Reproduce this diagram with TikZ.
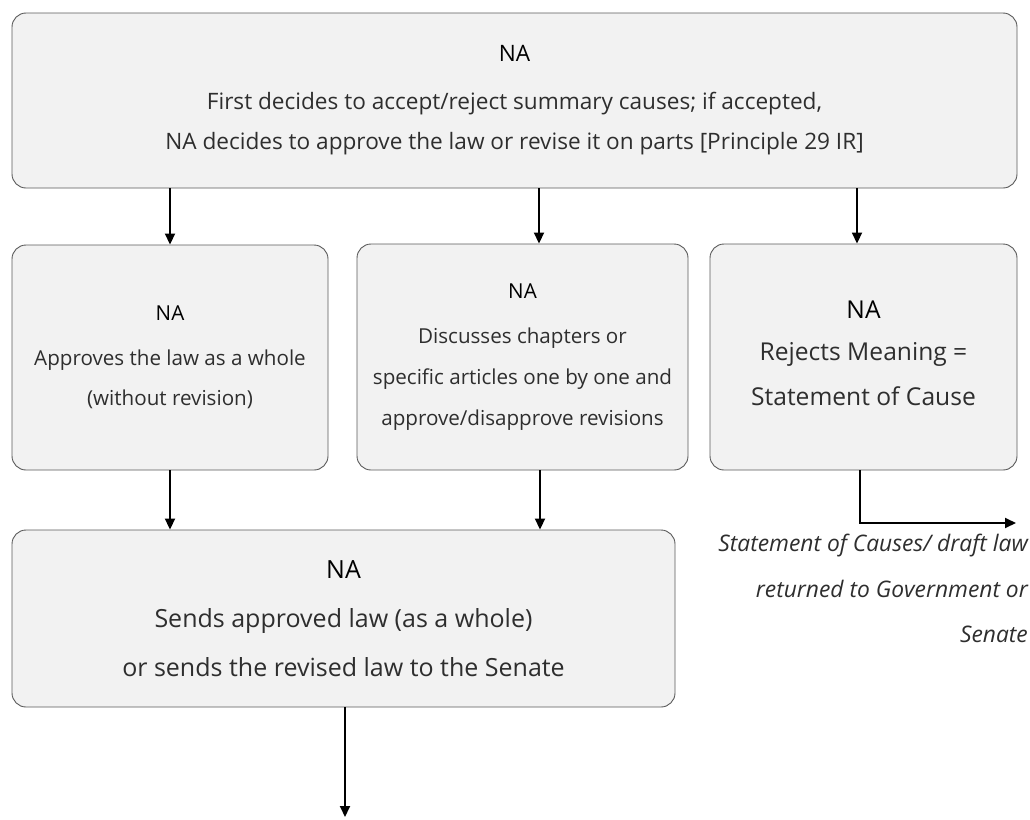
\documentclass[tikz,border=0pt]{standalone}
\usepackage{fontspec}
\setmainfont{Open Sans}
\usetikzlibrary{arrows.meta}
\definecolor{boxfill}{HTML}{F2F2F2}
\definecolor{boxline}{HTML}{5A5A5A}
\definecolor{txt}{HTML}{2E2E2E}
\tikzset{
  stagebox/.style={draw=boxline, fill=boxfill, line width=0.9pt, rounded corners=14pt,
    align=center, inner sep=0pt, text=txt},
  arr/.style={-{Triangle[length=11pt,width=10pt]}, line width=1.8pt, black},
}
\newcommand{\hd}{\textcolor{black}{NA}}
\begin{document}
\begin{tikzpicture}[x=1pt,y=-1pt]
\useasboundingbox (0,0) rectangle (1030,819);

\node[stagebox, minimum width=1005pt, minimum height=175pt,
      font=\fontsize{22.6}{40}\selectfont] (top) at (514.5,100.5)
  {\hd\\[8pt]
   First decides to accept/reject summary causes; if accepted,\\
   NA decides to approve the law or revise it on parts [Principle 29 IR]};

\node[stagebox, minimum width=316pt, minimum height=225pt,
      font=\fontsize{20.6}{40}\selectfont] (whole) at (170,357.5)
  {\hd\\[5pt]
   Approves the law as a whole\\
   (without revision)};

\node[stagebox, minimum width=331pt, minimum height=226pt,
      font=\fontsize{20.6}{41}\selectfont] (parts) at (522.5,357)
  {\hd\\[4pt]
   Discusses chapters or\\
   specific articles one by one and\\
   approve/disapprove revisions};

\node[stagebox, minimum width=307pt, minimum height=226pt,
      font=\fontsize{24.6}{45}\selectfont] (reject) at (863.5,357)
  {\hd\\[-3pt]
   Rejects Meaning =\\
   Statement of Cause\\[-37pt]\mbox{}};

\node[stagebox, minimum width=663pt, minimum height=177pt,
      font=\fontsize{25}{49}\selectfont] (send) at (343.5,618.5)
  {\hd\\
   Sends approved law (as a whole)\\
   or sends the revised law to the Senate};

\node[anchor=north east, align=right, inner sep=0pt, text=txt,
      font=\fontsize{22.8}{45.5}\selectfont\itshape] (back) at (1028,534)
  {Statement of Causes/ draft law\\
   returned to Government or\\
   Senate};

\coordinate (bend) at (860,523);
\coordinate (outR) at (1016,523);
\coordinate (outB) at (345,817);

\draw[arr] (top.south -| whole.north) -- (whole.north);
\draw[arr] (top.south -| 539,0) -- (parts.north -| 539,0);
\draw[arr] (top.south -| 857,0) -- (reject.north -| 857,0);
\draw[arr] (whole.south) -- (send.north -| whole.south);
\draw[arr] (parts.south -| 540,0) -- (send.north -| 540,0);
\draw[arr] (reject.south -| bend) -- (bend) -- (outR);
\draw[arr] (send.south -| outB) -- (outB);
\end{tikzpicture}
\end{document}
